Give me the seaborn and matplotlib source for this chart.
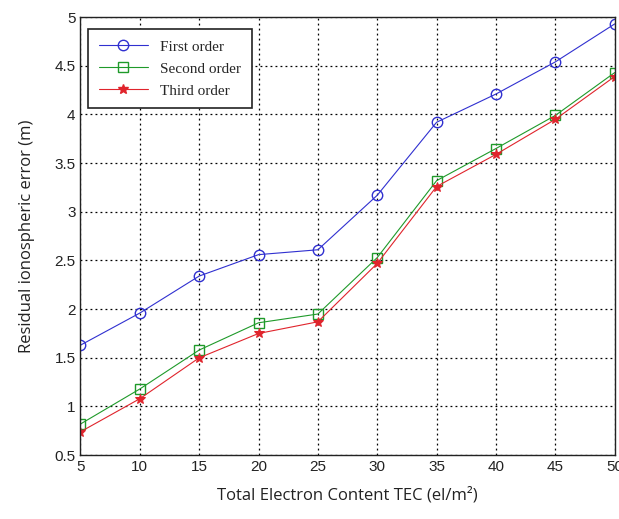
import matplotlib
matplotlib.use("Agg")
import matplotlib.pyplot as plt
import seaborn as sns
import pandas as pd

# data
tec = [5, 10, 15, 20, 25, 30, 35, 40, 45, 50]
first_order = [1.63, 1.96, 2.34, 2.56, 2.61, 3.17, 3.92, 4.21, 4.54, 4.93]
second_order = [0.82, 1.18, 1.58, 1.86, 1.95, 2.53, 3.32, 3.65, 3.99, 4.43]
third_order = [0.74, 1.08, 1.50, 1.75, 1.87, 2.47, 3.26, 3.59, 3.95, 4.39]
series_names = ["First order", "Second order", "Third order"]
x_ticks = [5, 10, 15, 20, 25, 30, 35, 40, 45, 50]
y_ticks = [0.5, 1, 1.5, 2, 2.5, 3, 3.5, 4, 4.5, 5]

df = pd.DataFrame({
    "tec": tec * 3,
    "err": first_order + second_order + third_order,
    "order": [series_names[0]] * len(tec) + [series_names[1]] * len(tec) + [series_names[2]] * len(tec),
})

sns.set_style("white")
plt.rcParams["font.family"] = ["Liberation Sans", "DejaVu Sans"]

fig = plt.figure(figsize=(6.19, 5.19), dpi=100)
ax = fig.add_axes([0.130, 0.123, 0.863, 0.844])

palette = {series_names[0]: "#3030d0", series_names[1]: "#1f9a2a", series_names[2]: "#e0242c"}
markers = {series_names[0]: "o", series_names[1]: "s", series_names[2]: "*"}

sns.lineplot(data=df, x="tec", y="err", hue="order", style="order",
             palette=palette, markers=markers, dashes=False, ax=ax,
             linewidth=0.8, markersize=7.5, legend=False)
# open markers for the first two series, MATLAB-like
for line, name in zip(ax.get_lines(), series_names):
    if name != series_names[2]:
        line.set_markerfacecolor("none")
        line.set_markeredgecolor(palette[name])
        line.set_markeredgewidth(1.0)
    else:
        line.set_markersize(7)
        line.set_markerfacecolor(palette[name])
        line.set_markeredgecolor(palette[name])

ax.set_xlim(5, 50)
ax.set_ylim(0.5, 5)
ax.set_xticks(x_ticks)
ax.set_yticks(y_ticks)
ax.set_xticklabels([str(t) for t in x_ticks])
ax.set_yticklabels(["0.5", "1", "1.5", "2", "2.5", "3", "3.5", "4", "4.5", "5"])
ax.tick_params(direction="in", length=4, labelsize=11, colors="#222222", width=0.8)
ax.grid(True, linestyle=(0, (1.5, 2.5)), color="black", linewidth=0.9)
for s in ax.spines.values():
    s.set_color("#222222")
    s.set_linewidth(1.0)

ax.set_xlabel("Total Electron Content TEC (el/m²)", fontsize=12, family=["Open Sans", "DejaVu Sans"], labelpad=9, color="#222222")
ax.set_ylabel("Residual ionospheric error (m)", fontsize=12, family=["Open Sans", "DejaVu Sans"], labelpad=14, color="#222222")

handles = [plt.Line2D([], [], color=palette[n], marker=markers[n], linewidth=0.8,
                      markersize=7.5 if n != series_names[2] else 7,
                      markerfacecolor="none" if n != series_names[2] else palette[n],
                      markeredgecolor=palette[n]) for n in series_names]
leg = ax.legend(handles, series_names, loc="upper left", bbox_to_anchor=(0.0, 0.99),
                prop={"family": "Liberation Serif", "size": 11}, frameon=True, fancybox=False,
                edgecolor="#222222", handlelength=3.2, borderpad=0.7, labelspacing=0.55)
leg.get_frame().set_linewidth(1.2)
leg.get_frame().set_alpha(1)

fig.savefig("out.png", dpi=100)
